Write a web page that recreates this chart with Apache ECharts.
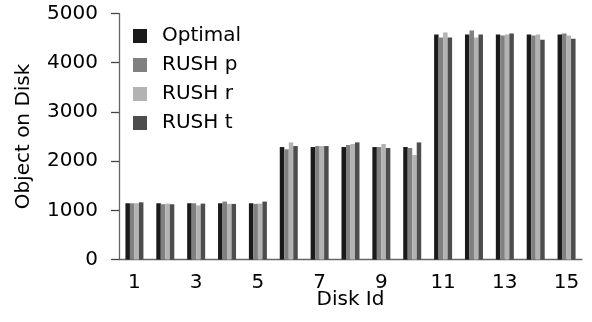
<!DOCTYPE html>
<html><head><meta charset="utf-8">
<script src="https://cdn.jsdelivr.net/npm/echarts@6/dist/echarts.min.js"></script>
<style>html,body{margin:0;padding:0;background:#fff}#c{width:592px;height:322px}</style>
</head><body><div id="c"></div>
<script>
var categories = ['1','2','3','4','5','6','7','8','9','10','11','12','13','14','15'];
var seriesNames = ['Optimal','RUSH p','RUSH r','RUSH t'];
var optimal = [1143,1143,1143,1143,1143,2286,2286,2286,2286,2286,4571,4571,4571,4571,4571];
var rushP = [1143,1123,1143,1177,1130,2240,2306,2327,2286,2266,4510,4653,4551,4551,4592];
var rushR = [1143,1136,1100,1130,1136,2380,2306,2348,2348,2122,4612,4510,4571,4571,4551];
var rushT = [1163,1123,1136,1130,1177,2306,2306,2380,2266,2380,4510,4571,4592,4468,4489];
var colors = ['#1a1a1a','#808080','#b3b3b3','#4d4d4d'];
var FONT = 'DejaVu Sans';
var chart = echarts.init(document.getElementById('c'), null, {renderer:'canvas'});
var data = [optimal, rushP, rushR, rushT];
chart.setOption({
  animation:false,
  textStyle:{fontFamily:FONT},
  grid:{left:119, right:10, top:13.5, bottom:62.5, containLabel:false},
  legend:{
    orient:'vertical', left:128, top:21, itemWidth:14, itemHeight:14, itemGap:9,
    icon:'rect',
    textStyle:{fontFamily:FONT, fontSize:20, color:'#000', lineHeight:20, padding:[0,0,0,10]},
    data:seriesNames
  },
  xAxis:{
    type:'category', data:categories,
    name:'Disk Id', nameLocation:'middle', nameGap:30, nameMoveOverlap:false,
    nameTextStyle:{fontFamily:FONT, fontSize:20, color:'#000', lineHeight:20},
    axisLine:{lineStyle:{color:'#666', width:1.3}},
    axisTick:{interval:1, alignWithLabel:true, length:9, lineStyle:{color:'#444', width:1.3}},
    axisLabel:{interval:1, margin:13, fontFamily:FONT, fontSize:20, color:'#000'},
    splitLine:{show:false}
  },
  yAxis:{
    type:'value', min:0, max:5000, interval:1000,
    name:'Object on Disk', nameLocation:'middle', nameGap:85, nameRotate:90, nameMoveOverlap:false,
    nameTextStyle:{fontFamily:FONT, fontSize:20, color:'#000'},
    axisLine:{show:true, lineStyle:{color:'#666', width:1.3}},
    axisTick:{show:true, length:8, lineStyle:{color:'#444', width:1.3}},
    axisLabel:{margin:21, fontFamily:FONT, fontSize:20, color:'#000', formatter:function(v){return String(v);}},
    splitLine:{show:false}
  },
  series: seriesNames.map(function(n,i){
    return {name:n, type:'bar', data:data[i], barWidth:4.5, barGap:'0%',
      itemStyle:{color:colors[i]}};
  })
});
</script></body></html>
